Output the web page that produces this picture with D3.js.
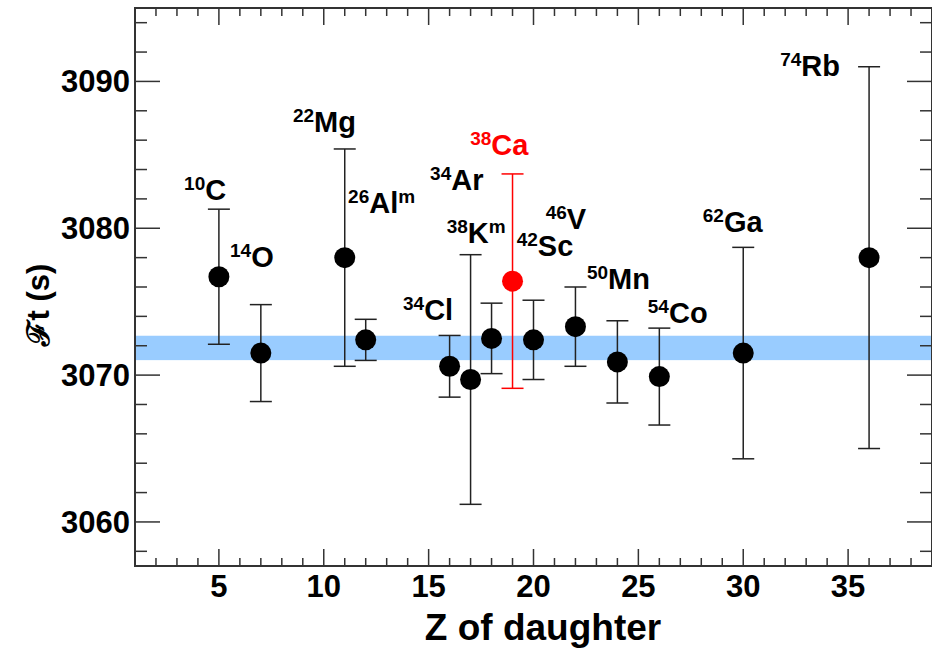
<!DOCTYPE html>
<html>
<head>
<meta charset="utf-8">
<script src="https://cdn.jsdelivr.net/npm/d3@7"></script>
<style>
  body { margin: 0; background: #fff; }
  svg { display: block; font-family: "Liberation Sans", Arial, sans-serif; }
</style>
</head>
<body>
<svg id="chart" width="932" height="648"></svg>
<script>
// data
const zValues = [5, 7, 11, 12, 16, 17, 18, 19, 20, 22, 24, 26, 30, 36];
const ftValues = [3076.7, 3071.5, 3078.0, 3072.4, 3070.6, 3069.7, 3072.5, 3076.4, 3072.4, 3073.3, 3070.9, 3069.9, 3071.5, 3078.0];
const ftErrors = [4.6, 3.3, 7.4, 1.4, 2.1, 8.5, 2.4, 7.3, 2.7, 2.7, 2.8, 3.3, 7.2, 13.0];

// nuclide labels
const massNumbers = ["10", "14", "22", "26", "34", "38", "34", "38", "42", "46", "50", "54", "62", "74"];
const elements = ["C", "O", "Mg", "Al", "Cl", "K", "Ar", "Ca", "Sc", "V", "Mn", "Co", "Ga", "Rb"];
const isomer = [false, false, false, true, false, true, false, false, false, false, false, false, false, false];
const highlight = [false, false, false, false, false, false, false, true, false, false, false, false, false, false];
// label anchors in data coordinates (Z, Ft)
const labelZ = [3.34, 5.53, 8.53, 11.16, 13.78, 15.86, 15.07, 16.98, 19.2, 20.58, 22.55, 25.45, 28.07, 31.76];
const labelFt = [3081.9, 3077.36, 3086.56, 3081.04, 3073.75, 3079.02, 3082.61, 3084.99, 3078.11, 3079.95, 3075.86, 3073.57, 3079.77, 3090.37];

// average band
const bandLow = 3071.02;
const bandHigh = 3072.68;

const xDomain = [1, 39];
const yDomain = [3057, 3095];
const xMajor = [5, 10, 15, 20, 25, 30, 35];
const yMajor = [3060, 3070, 3080, 3090];

const svg = d3.select('#chart');
const pLeft = 135, pRight = 932, pTop = 8, pBottom = 566;

const x = d3.scaleLinear().domain(xDomain).range([pLeft, pRight]);
const y = d3.scaleLinear().domain(yDomain).range([pBottom, pTop]);

const axisColor = "#333";

// blue band
svg.append("rect")
  .attr("x", pLeft)
  .attr("y", y(bandHigh))
  .attr("width", pRight - pLeft)
  .attr("height", y(bandLow) - y(bandHigh))
  .attr("fill", "#99ccff");

// ticks
const xMinor = d3.range(2, 39).filter(v => !xMajor.includes(v));
const yMinor = d3.range(3058, 3095, 2).filter(v => !yMajor.includes(v));

const ticks = svg.append("g").attr("stroke", axisColor).attr("stroke-width", 1.5);
// bottom & top
xMinor.forEach(v => {
  ticks.append("line").attr("x1", x(v)).attr("x2", x(v)).attr("y1", pBottom).attr("y2", pBottom - 8);
  ticks.append("line").attr("x1", x(v)).attr("x2", x(v)).attr("y1", pTop).attr("y2", pTop + 8);
});
xMajor.forEach(v => {
  ticks.append("line").attr("x1", x(v)).attr("x2", x(v)).attr("y1", pBottom).attr("y2", pBottom - 17);
  ticks.append("line").attr("x1", x(v)).attr("x2", x(v)).attr("y1", pTop).attr("y2", pTop + 17);
});
// left & right
yMinor.forEach(v => {
  ticks.append("line").attr("y1", y(v)).attr("y2", y(v)).attr("x1", pLeft).attr("x2", pLeft + 12);
  ticks.append("line").attr("y1", y(v)).attr("y2", y(v)).attr("x1", pRight).attr("x2", pRight - 12);
});
yMajor.forEach(v => {
  ticks.append("line").attr("y1", y(v)).attr("y2", y(v)).attr("x1", pLeft).attr("x2", pLeft + 25);
  ticks.append("line").attr("y1", y(v)).attr("y2", y(v)).attr("x1", pRight).attr("x2", pRight - 25);
});

// frame
svg.append("rect")
  .attr("x", pLeft).attr("y", pTop)
  .attr("width", pRight - pLeft).attr("height", pBottom - pTop)
  .attr("fill", "none").attr("stroke", axisColor).attr("stroke-width", 2);

// tick labels
svg.append("g").selectAll("text").data(xMajor).join("text")
  .attr("x", d => x(d)).attr("y", 597)
  .attr("text-anchor", "middle")
  .attr("font-size", 31).attr("font-weight", "bold")
  .text(d => d);

svg.append("g").selectAll("text").data(yMajor).join("text")
  .attr("x", 130).attr("y", d => y(d) + 11)
  .attr("text-anchor", "end")
  .attr("font-size", 31).attr("font-weight", "bold")
  .text(d => d);

// axis titles
svg.append("text")
  .attr("x", 543).attr("y", 640)
  .attr("text-anchor", "middle")
  .attr("font-size", 37).attr("font-weight", "bold")
  .text("Z of daughter");

svg.append("text")
  .attr("transform", "translate(49,305) rotate(-90)")
  .attr("text-anchor", "middle")
  .attr("font-size", 31).attr("font-weight", "bold")
  .text("\u2131t (s)");

// points
const pts = zValues.map((z, i) => ({ z: z, ft: ftValues[i], err: ftErrors[i], red: highlight[i] }));

const bars = svg.append("g");
pts.forEach(d => {
  const c = d.red ? "#ff0000" : "#222";
  bars.append("line")
    .attr("x1", x(d.z)).attr("x2", x(d.z))
    .attr("y1", y(d.ft - d.err)).attr("y2", y(d.ft + d.err))
    .attr("stroke", c).attr("stroke-width", 1.5);
  [d.ft - d.err, d.ft + d.err].forEach(v => {
    bars.append("line")
      .attr("x1", x(d.z) - 11).attr("x2", x(d.z) + 11)
      .attr("y1", y(v)).attr("y2", y(v))
      .attr("stroke", c).attr("stroke-width", 1.5);
  });
});

svg.append("g").selectAll("circle").data(pts).join("circle")
  .attr("cx", d => x(d.z)).attr("cy", d => y(d.ft))
  .attr("r", 10.5)
  .attr("fill", d => d.red ? "#ff0000" : "#000");

// nuclide labels
const labels = svg.append("g").attr("font-weight", "bold");
elements.forEach((el, i) => {
  const t = labels.append("text")
    .attr("x", x(labelZ[i])).attr("y", y(labelFt[i]))
    .attr("fill", highlight[i] ? "#ff0000" : "#000");
  t.append("tspan").attr("font-size", 19).attr("dy", -10).text(massNumbers[i]);
  t.append("tspan").attr("font-size", 29).attr("dy", 10).text(el);
  if (isomer[i]) {
    t.append("tspan").attr("font-size", 19).attr("dy", -10).text("m");
  }
});
</script>
</body>
</html>
